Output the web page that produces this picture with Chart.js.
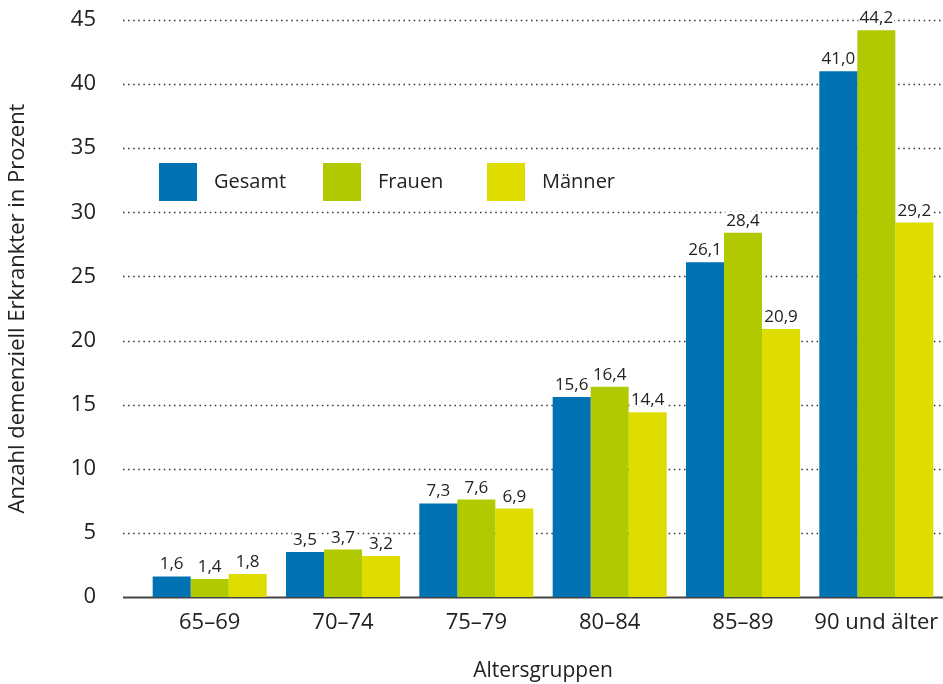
<!DOCTYPE html>
<html>
<head>
<meta charset="utf-8">
<script src="https://cdn.jsdelivr.net/npm/chart.js@4"></script>
<style>
  html, body { margin: 0; padding: 0; background: #fff; }
  #wrap { width: 943px; height: 684px; }
</style>
</head>
<body>
<div id="wrap"><canvas id="chart" width="943" height="684"></canvas></div>
<script>
// Daten aus der Grafik
const altersgruppen = ['65–69', '70–74', '75–79', '80–84', '85–89', '90 und älter'];
const gesamt = [1.6, 3.5, 7.3, 15.6, 26.1, 41.0];
const frauen = [1.4, 3.7, 7.6, 16.4, 28.4, 44.2];
const maenner = [1.8, 3.2, 6.9, 14.4, 20.9, 29.2];
const yTicks = [0, 5, 10, 15, 20, 25, 30, 35, 40, 45];

const FONT = '"Open Sans", "DejaVu Sans", sans-serif';
const TEXT = '#222';

function fmt(v) {
    return v.toFixed(1).replace('.', ',');
}

// gepunktete Hilfslinien + Grundlinie, etwas nach links verlängert
const gridPlugin = {
    id: 'dottedGrid',
    beforeDatasetsDraw(chart) {
        const ctx = chart.ctx;
        const y = chart.scales.y;
        const area = chart.chartArea;
        const x0 = area.left - 20;
        ctx.save();
        yTicks.forEach(t => {
            const py = Math.round(y.getPixelForValue(t)) + 0.5;
            ctx.beginPath();
            if (t === 0) {
                ctx.setLineDash([]);
                ctx.strokeStyle = '#444';
                ctx.lineWidth = 2;
            } else {
                ctx.setLineDash([1.5, 3.6]);
                ctx.strokeStyle = '#333';
                ctx.lineWidth = 1.3;
            }
            ctx.moveTo(x0, py);
            ctx.lineTo(area.right, py);
            ctx.stroke();
        });
        ctx.restore();
    }
};

// Werte über den Balken
const labelPlugin = {
    id: 'valueLabels',
    afterDatasetsDraw(chart) {
        const ctx = chart.ctx;
        ctx.save();
        ctx.font = '17px ' + FONT;
        ctx.textAlign = 'center';
        ctx.textBaseline = 'alphabetic';
        chart.data.datasets.forEach((ds, i) => {
            chart.getDatasetMeta(i).data.forEach((bar, j) => {
                const txt = fmt(ds.data[j]);
                const w = ctx.measureText(txt).width;
                const ty = bar.y - 7;
                ctx.fillStyle = '#fff';
                ctx.fillRect(bar.x - w / 2 - 1, ty - 14, w + 2, 15);
                ctx.fillStyle = TEXT;
                ctx.fillText(txt, bar.x, ty);
            });
        });
        ctx.restore();
    }
};

// Legende im Diagrammbereich
const legendPlugin = {
    id: 'boxLegend',
    afterDraw(chart) {
        const ctx = chart.ctx;
        const area = chart.chartArea;
        const size = 38;
        let x = area.left + 16;
        const top = area.top + 143;
        ctx.save();
        ctx.font = '20px ' + FONT;
        ctx.textBaseline = 'middle';
        chart.data.datasets.forEach(ds => {
            ctx.fillStyle = ds.backgroundColor;
            ctx.fillRect(x, top, size, size);
            ctx.fillStyle = TEXT;
            ctx.fillText(ds.label, x + size + 17, top + size / 2);
            x += 164;
        });
        ctx.restore();
    }
};

new Chart(document.getElementById('chart'), {
    type: 'bar',
    data: {
        labels: altersgruppen,
        datasets: [
            { label: 'Gesamt', data: gesamt, backgroundColor: '#0072b1' },
            { label: 'Frauen', data: frauen, backgroundColor: '#b1c900' },
            { label: 'Männer', data: maenner, backgroundColor: '#dfdc00' }
        ]
    },
    options: {
        responsive: false,
        animation: false,
        layout: { padding: { top: 20, left: 0, right: 0, bottom: 0 } },
        datasets: {
            bar: { categoryPercentage: 0.855, barPercentage: 1.0 }
        },
        scales: {
            x: {
                grid: { display: false, drawTicks: false },
                border: { display: false },
                ticks: { color: TEXT, font: { family: FONT, size: 22 }, padding: 13, maxRotation: 0 },
                title: {
                    display: true,
                    text: 'Altersgruppen',
                    color: TEXT,
                    font: { family: FONT, size: 21 },
                    padding: { top: 0, bottom: 0 }
                },
                afterFit(scale) {
                    scale.height = 87;
                    scale.paddingLeft = 0;
                    scale.paddingRight = 0;
                }
            },
            y: {
                min: 0,
                max: 45,
                afterBuildTicks(scale) { scale.ticks = yTicks.map(v => ({ value: v })); },
                grid: { display: false, drawTicks: false },
                border: { display: false },
                ticks: { color: TEXT, font: { family: FONT, size: 22 }, padding: 47 },
                title: {
                    display: true,
                    text: 'Anzahl demenziell Erkrankter in Prozent',
                    color: TEXT,
                    font: { family: FONT, size: 22 },
                    padding: { top: 5, bottom: 0 }
                },
                afterFit(scale) {
                    scale.width = 143;
                    scale.paddingTop = 0;
                    scale.paddingBottom = 0;
                }
            }
        },
        plugins: {
            legend: { display: false },
            tooltip: { enabled: false }
        }
    },
    plugins: [gridPlugin, labelPlugin, legendPlugin]
});
</script>
</body>
</html>
